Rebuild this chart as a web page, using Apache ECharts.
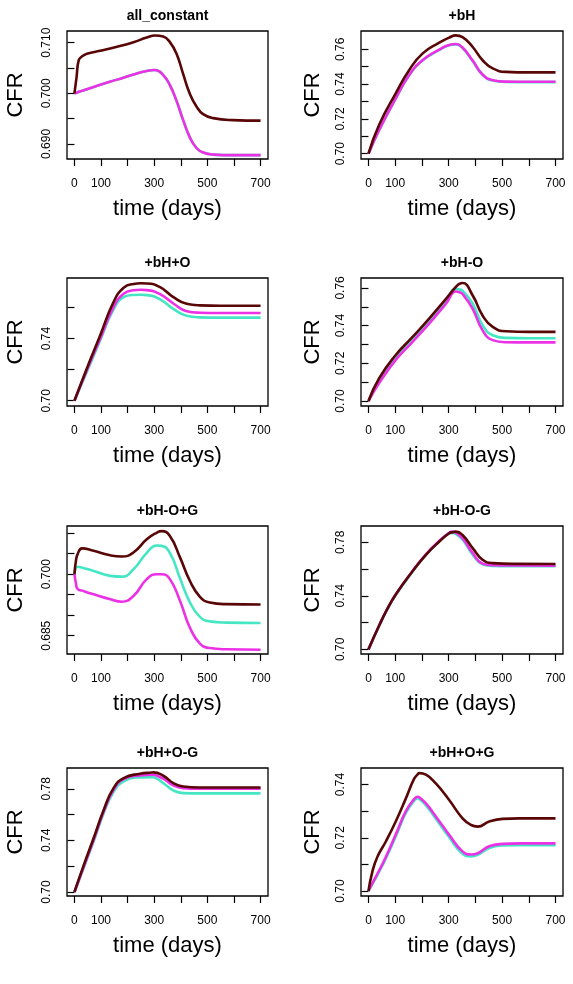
<!DOCTYPE html>
<html>
<head>
<meta charset="utf-8">
<script src="https://cdn.jsdelivr.net/npm/echarts@6/dist/echarts.min.js"></script>
<style>
  html, body { margin: 0; padding: 0; background: #fff; }
  #chart { width: 573px; height: 984px; }
</style>
</head>
<body>
<div id="chart"></div>
<script>
// panel titles
const panelTitles = ['all_constant', '+bH', '+bH+O', '+bH-O', '+bH-O+G', '+bH-O-G', '+bH+O-G', '+bH+O+G'];

// x axis ticks (days)
const xTicks = [0, 100, 200, 300, 400, 500, 600, 700];
const xTickLabels = [0, 100, 300, 500, 700];

// all_constant
const days1 = [0, 8, 16, 29, 47, 97, 160, 222, 272, 303, 334, 359, 384, 409, 434, 459, 484, 522, 596, 700];
const dark1 = [0.700, 0.7032, 0.7065, 0.7073, 0.7078, 0.7084, 0.7092, 0.7101, 0.7110, 0.7114, 0.7112, 0.7101, 0.7078, 0.7038, 0.6999, 0.6974, 0.6959, 0.6951, 0.6947, 0.6946];
const magenta1 = [0.700, 0.7001, 0.7003, 0.7005, 0.7008, 0.7017, 0.7027, 0.7037, 0.7044, 0.7046, 0.7036, 0.7016, 0.6985, 0.6947, 0.6913, 0.6892, 0.6883, 0.6879, 0.6878, 0.6878];
const cyan1 = [0.700, 0.7001, 0.7003, 0.7005, 0.7008, 0.7017, 0.7027, 0.7037, 0.7044, 0.7046, 0.7036, 0.7016, 0.6985, 0.6947, 0.6913, 0.6892, 0.6883, 0.6879, 0.6878, 0.6878];

// +bH
const days2 = [0, 40, 102, 152, 202, 265, 302, 327, 352, 390, 427, 465, 515, 600, 700];
const dark2 = [0.700, 0.7166, 0.7347, 0.7480, 0.7575, 0.7638, 0.7667, 0.7680, 0.7670, 0.7613, 0.7537, 0.7490, 0.7470, 0.7467, 0.7467];
const magenta2 = [0.700, 0.7137, 0.7318, 0.7451, 0.7537, 0.7598, 0.7625, 0.7630, 0.7610, 0.7535, 0.7455, 0.7422, 0.7414, 0.7413, 0.7413];
const cyan2 = [0.700, 0.7135, 0.7316, 0.7449, 0.7535, 0.7596, 0.7623, 0.7628, 0.7607, 0.7532, 0.7453, 0.7420, 0.7412, 0.7411, 0.7411];

// +bH+O
const days3 = [0, 47, 97, 147, 185, 222, 250, 272, 322, 372, 422, 472, 550, 700];
const dark3 = [0.700, 0.7209, 0.7421, 0.7634, 0.7726, 0.7751, 0.7755, 0.7754, 0.7730, 0.7666, 0.7623, 0.7613, 0.7611, 0.7611];
const magenta3 = [0.700, 0.7198, 0.7400, 0.7602, 0.7687, 0.7710, 0.7713, 0.7711, 0.7685, 0.7625, 0.7575, 0.7566, 0.7564, 0.7564];
const cyan3 = [0.700, 0.7187, 0.7389, 0.7587, 0.7666, 0.7680, 0.7681, 0.7679, 0.7652, 0.7590, 0.7546, 0.7536, 0.7534, 0.7534];

// +bH-O
const days4 = [0, 40, 102, 165, 227, 290, 327, 340, 352, 390, 427, 465, 515, 600, 700];
const dark4 = [0.700, 0.7121, 0.7244, 0.7340, 0.7437, 0.7542, 0.7605, 0.7621, 0.7626, 0.7560, 0.7454, 0.7393, 0.7370, 0.7367, 0.7367];
const magenta4 = [0.700, 0.7095, 0.7218, 0.7314, 0.7411, 0.7516, 0.7581, 0.7577, 0.7568, 0.7489, 0.7375, 0.7323, 0.7312, 0.7311, 0.7311];
const cyan4 = [0.700, 0.7112, 0.7235, 0.7332, 0.7428, 0.7533, 0.7595, 0.7592, 0.7586, 0.7516, 0.7402, 0.7349, 0.7335, 0.7333, 0.7333];

// +bH-O+G
const days5 = [0, 5, 12, 29, 72, 135, 178, 222, 272, 309, 328, 359, 397, 434, 472, 509, 571, 700];
const dark5 = [0.700, 0.7030, 0.7049, 0.7063, 0.7057, 0.7046, 0.7043, 0.7053, 0.7085, 0.7101, 0.7105, 0.7093, 0.7041, 0.6984, 0.6945, 0.6931, 0.6927, 0.6926];
const magenta5 = [0.700, 0.6980, 0.6964, 0.6960, 0.6951, 0.6939, 0.6933, 0.6947, 0.6988, 0.7000, 0.7000, 0.6988, 0.6935, 0.6870, 0.6831, 0.6820, 0.6817, 0.6816];
const cyan5 = [0.700, 0.7015, 0.7018, 0.7016, 0.7008, 0.6996, 0.6994, 0.7012, 0.7052, 0.7070, 0.7069, 0.7052, 0.6990, 0.6932, 0.6896, 0.6885, 0.6882, 0.6881];

// +bH-O-G
const days6 = [0, 40, 70, 102, 165, 215, 265, 302, 315, 327, 352, 390, 427, 465, 550, 700];
const dark6 = [0.700, 0.7178, 0.7300, 0.7410, 0.7583, 0.7706, 0.7805, 0.7867, 0.7875, 0.7879, 0.7854, 0.7756, 0.7669, 0.7644, 0.7638, 0.7637];
const magenta6 = [0.700, 0.7178, 0.7300, 0.7410, 0.7585, 0.7710, 0.7810, 0.7870, 0.7879, 0.7872, 0.7830, 0.7719, 0.7640, 0.7628, 0.7626, 0.7625];
const cyan6 = [0.700, 0.7175, 0.7296, 0.7405, 0.7580, 0.7705, 0.7805, 0.7866, 0.7870, 0.7862, 0.7818, 0.7707, 0.7635, 0.7623, 0.7621, 0.7620];

// +bH+O-G
const days7 = [0, 35, 72, 110, 147, 185, 247, 291, 297, 334, 372, 409, 472, 700];
const dark7 = [0.700, 0.7208, 0.7416, 0.7636, 0.7805, 0.7883, 0.7917, 0.7926, 0.7927, 0.7901, 0.7844, 0.7818, 0.7810, 0.7810];
const magenta7 = [0.700, 0.7195, 0.7403, 0.7623, 0.7792, 0.7875, 0.7904, 0.7909, 0.7908, 0.7878, 0.7826, 0.7805, 0.7800, 0.7800];
const cyan7 = [0.700, 0.7188, 0.7390, 0.7610, 0.7774, 0.7857, 0.7888, 0.7890, 0.7889, 0.7844, 0.7787, 0.7766, 0.7764, 0.7764];

// +bH+O+G
const days8 = [0, 15, 34, 65, 102, 140, 171, 184, 190, 215, 252, 302, 352, 384, 409, 452, 502, 565, 700];
const dark8 = [0.700, 0.7075, 0.7130, 0.7186, 0.7261, 0.7348, 0.7422, 0.7438, 0.7443, 0.7437, 0.7404, 0.7342, 0.7273, 0.7248, 0.7242, 0.7261, 0.7271, 0.7273, 0.7273];
const magenta8 = [0.700, 0.7030, 0.7066, 0.7128, 0.7212, 0.7300, 0.7345, 0.7354, 0.7352, 0.7329, 0.7280, 0.7211, 0.7149, 0.7137, 0.7142, 0.7168, 0.7177, 0.7179, 0.7179];
const cyan8 = [0.700, 0.7027, 0.7061, 0.7122, 0.7205, 0.7293, 0.7339, 0.7348, 0.7346, 0.7322, 0.7272, 0.7202, 0.7140, 0.7130, 0.7136, 0.7162, 0.7171, 0.7172, 0.7172];

// y axis ranges, ticks and labels per panel
const yRanges = [[0.68703, 0.71230], [0.69695, 0.7705], [0.6966, 0.7789], [0.69737, 0.76526],
                 [0.68055, 0.71175], [0.69654, 0.7921], [0.69688, 0.7961], [0.69814, 0.74621]];
const yTicks = [
  [0.690, 0.695, 0.700, 0.705, 0.710],
  [0.70, 0.71, 0.72, 0.73, 0.74, 0.75, 0.76],
  [0.70, 0.72, 0.74, 0.76],
  [0.70, 0.71, 0.72, 0.73, 0.74, 0.75, 0.76],
  [0.685, 0.690, 0.695, 0.700, 0.705, 0.710],
  [0.70, 0.72, 0.74, 0.76, 0.78],
  [0.70, 0.72, 0.74, 0.76, 0.78],
  [0.70, 0.71, 0.72, 0.73, 0.74]
];
const yTickLabels = [
  [0.690, 0.700, 0.710],
  [0.70, 0.72, 0.74, 0.76],
  [0.70, 0.74],
  [0.70, 0.72, 0.74, 0.76],
  [0.685, 0.700],
  [0.70, 0.74, 0.78],
  [0.70, 0.74, 0.78],
  [0.70, 0.72, 0.74]
];
const yDecimals = [3, 2, 2, 2, 3, 2, 2, 2];

const allDays = [days1, days2, days3, days4, days5, days6, days7, days8];
const allDark = [dark1, dark2, dark3, dark4, dark5, dark6, dark7, dark8];
const allMagenta = [magenta1, magenta2, magenta3, magenta4, magenta5, magenta6, magenta7, magenta8];
const allCyan = [cyan1, cyan2, cyan3, cyan4, cyan5, cyan6, cyan7, cyan8];

const FONT = 'Liberation Sans, Arial, Helvetica, sans-serif';
const colLeft = [67, 361];
const colWidth = [201, 202];
const rowTop = [31, 278, 526, 768];
const boxHeight = 128;
const nameGapY = [40, 37];

const grids = [], xAxes = [], yAxes = [], titles = [], series = [];

panelTitles.forEach((name, i) => {
  const col = i % 2, row = Math.floor(i / 2);
  grids.push({
    left: colLeft[col], top: rowTop[row], width: colWidth[col], height: boxHeight,
    show: true, borderColor: '#000', borderWidth: 1.3, backgroundColor: 'transparent'
  });
  titles.push({
    text: name, left: colLeft[col] + colWidth[col] / 2, top: rowTop[row] - 22,
    textAlign: 'center', padding: 0,
    textStyle: { fontSize: 14, fontWeight: 'bold', color: '#000', fontFamily: FONT }
  });
  xAxes.push({
    gridIndex: i, type: 'value', min: -28, max: 728,
    axisLine: { show: false }, splitLine: { show: false },
    axisTick: { show: true, length: 7, lineStyle: { color: '#000', width: 1.2 }, customValues: xTicks },
    axisLabel: { customValues: xTickLabels, margin: 19, fontSize: 12, color: '#000', fontFamily: FONT },
    name: 'time (days)', nameLocation: 'middle', nameGap: 39,
    nameTextStyle: { fontSize: 22, color: '#000', fontFamily: FONT }
  });
  const dec = yDecimals[i];
  yAxes.push({
    gridIndex: i, type: 'value', min: yRanges[i][0], max: yRanges[i][1],
    axisLine: { show: false }, splitLine: { show: false },
    axisTick: { show: true, length: 7, lineStyle: { color: '#000', width: 1.2 }, customValues: yTicks[i] },
    axisLabel: {
      customValues: yTickLabels[i], rotate: 90, margin: 14, fontSize: 12, color: '#000', fontFamily: FONT,
      formatter: v => Number(v).toFixed(dec)
    },
    name: 'CFR', nameLocation: 'middle', nameGap: nameGapY[col],
    nameTextStyle: { fontSize: 22, color: '#000', fontFamily: FONT }
  });
  const lines = [
    { vals: allCyan[i], color: '#45e6c3' },
    { vals: allMagenta[i], color: '#ec30e6' },
    { vals: allDark[i], color: '#580606' }
  ];
  lines.forEach((l, k) => {
    series.push({
      type: 'line', xAxisIndex: i, yAxisIndex: i,
      data: allDays[i].map((d, j) => [d, l.vals[j]]),
      smooth: 0.5, showSymbol: false, silent: true,
      lineStyle: { color: l.color, width: 2.6 }, itemStyle: { color: l.color },
      z: 2 + k
    });
  });
});

const chart = echarts.init(document.getElementById('chart'), null, { renderer: 'canvas' });
chart.setOption({
  animation: false,
  backgroundColor: '#fff',
  title: titles,
  grid: grids,
  xAxis: xAxes,
  yAxis: yAxes,
  series: series
});
</script>
</body>
</html>
